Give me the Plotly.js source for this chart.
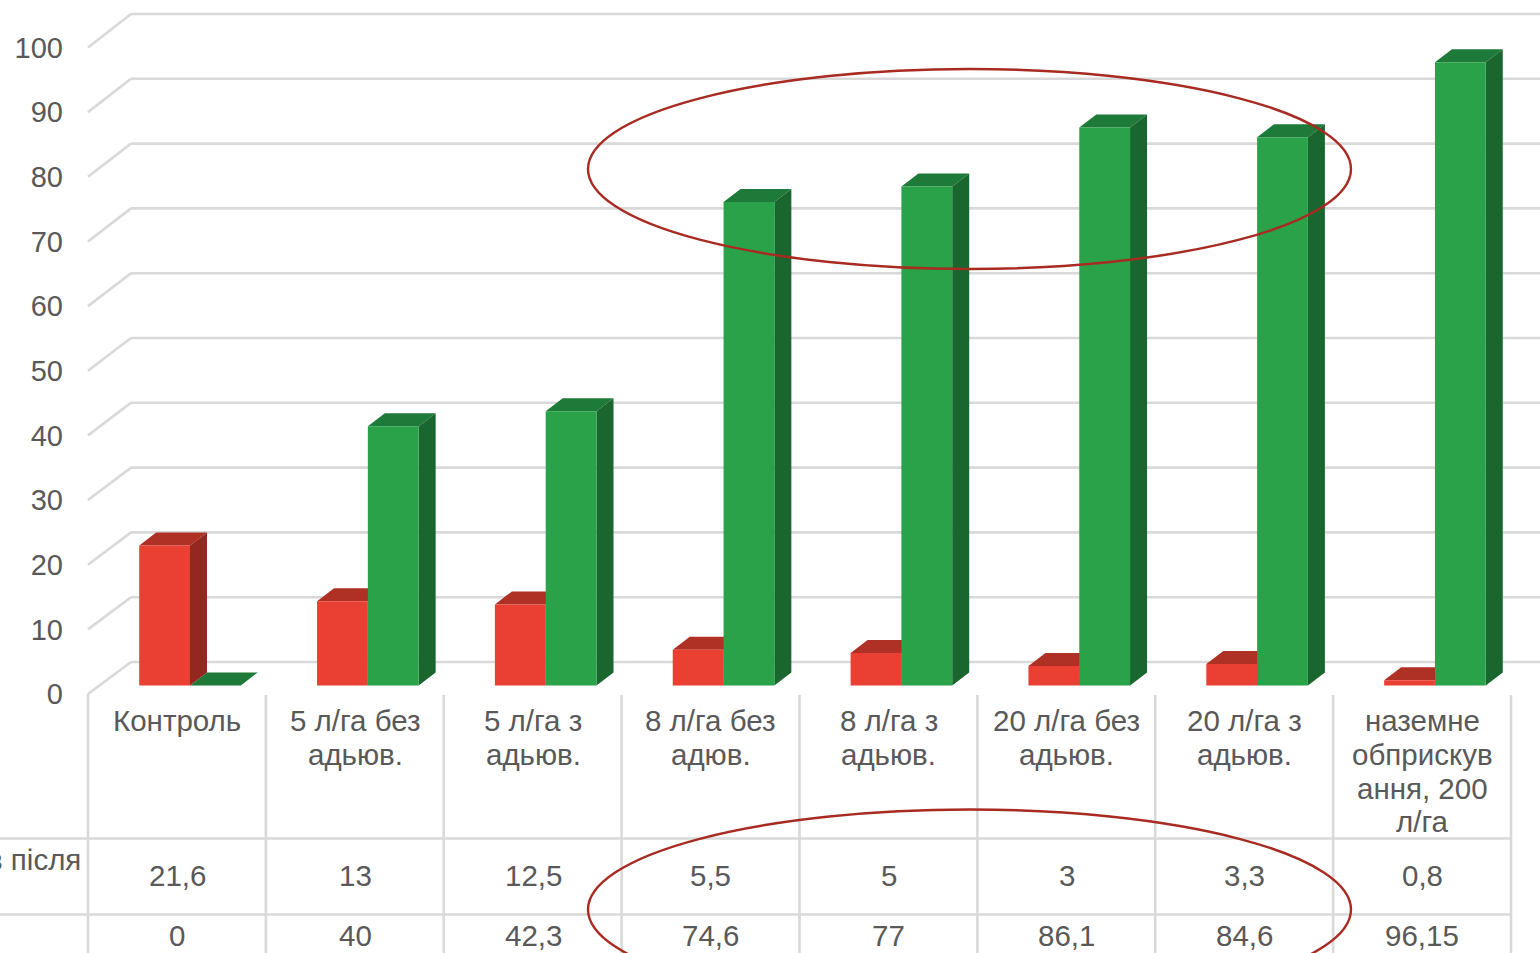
<!DOCTYPE html>
<html>
<head>
<meta charset="utf-8">
<script src="https://cdn.plot.ly/plotly-3.0.1.min.js"></script>
<style>html,body{margin:0;padding:0;background:#fff;overflow:hidden}#chart{width:1540px;height:953px}</style>
</head>
<body>
<div id="chart"></div>
<script>
// Data table of the chart
const categories = ['Контроль', '5 л/га без<br>адьюв.', '5 л/га з<br>адьюв.', '8 л/га без<br>адюв.',
  '8 л/га з<br>адьюв.', '20 л/га без<br>адьюв.', '20 л/га з<br>адьюв.', 'наземне<br>обприскув<br>ання, 200<br>л/га'];
const redValues = [21.6, 13, 12.5, 5.5, 5, 3, 3.3, 0.8];
const greenValues = [0, 40, 42.3, 74.6, 77, 86.1, 84.6, 96.15];
const redLabels = ['21,6', '13', '12,5', '5,5', '5', '3', '3,3', '0,8'];
const greenLabels = ['0', '40', '42,3', '74,6', '77', '86,1', '84,6', '96,15'];
const yTicks = [0, 10, 20, 30, 40, 50, 60, 70, 80, 90, 100];

// Frame geometry in page pixels
const W = 1540, H = 953, LEFT = 88, FLOOR = 694;
const CELL = 177.85, FIRST_CENTER = 177;
const FRONT_SCALE = 6.465, BAR_SCALE = 6.48, BAR_BASE = 685.4;
const BACK_BASE = 662, BACK_X = 131;
const DEPTH_X = 17, DEPTH_Y = 13, BAR_SHIFT = 13, BAR_W = 50.8;

const GRID = '#D9D9D9', TEXT = '#595959', RING = '#A82B22';
const FONT = 'Liberation Sans, Arial, sans-serif', FS = 29.5;

const px = p => (p - LEFT) / (W - LEFT);
const py = p => (FLOOR - p) / FLOOR;
const catRange = shift => [(LEFT - FIRST_CENTER - shift) / CELL, (W - FIRST_CENTER - shift) / CELL];
const idx = categories.map((_, i) => i);

// Side and top faces of the bars as filled polygons, one closed loop per bar
const w = BAR_W / CELL, dx = DEPTH_X / CELL, dy = DEPTH_Y / BAR_SCALE;
function faces(values, offset, kind) {
  const xs = [], ys = [];
  values.forEach((v, i) => {
    const x0 = i + offset, x1 = x0 + w;
    if (kind === 'top') {
      xs.push(x0, x1, x1 + dx, x0 + dx, x0, null);
      ys.push(v, v, v + dy, v + dy, v, null);
    } else {
      xs.push(x1, x1, x1 + dx, x1 + dx, x1, null);
      ys.push(0, v, v + dy, dy, 0, null);
    }
  });
  return {x: xs, y: ys};
}
function faceTrace(values, offset, kind, color) {
  const f = faces(values, offset, kind);
  return {type: 'scatter', mode: 'lines', x: f.x, y: f.y, xaxis: 'x2', yaxis: 'y2', fill: 'toself',
    fillcolor: color, line: {width: 0, color: color}, hoverinfo: 'skip', showlegend: false};
}
function frontTrace(values, color, name) {
  return {type: 'bar', x: idx, y: values, name: name, xaxis: 'x3', yaxis: 'y3',
    marker: {color: color, line: {width: 0}}, showlegend: false};
}

const traces = [
  // Invisible carrier for the value axis and the category positions
  {type: 'scatter', mode: 'markers', x: idx, y: greenValues, marker: {opacity: 0}, hoverinfo: 'skip', showlegend: false},
  faceTrace(greenValues, 0, 'top', '#1E7A38'),
  faceTrace(greenValues, 0, 'side', '#19662E'),
  faceTrace(redValues, -w, 'top', '#AF3024'),
  faceTrace(redValues, -w, 'side', '#92281F'),
  frontTrace(redValues, '#EA3F33', 'Червоний ряд'),
  frontTrace(greenValues, '#2AA24A', 'Зелений ряд')
];

// Walls: diagonal from the value axis to the back wall, then the gridline
const lineStyle = {color: GRID, width: 2.6};
const seg = (x0, y0, x1, y1, st) => ({type: 'line', xref: 'paper', yref: 'paper', layer: 'below',
  x0: px(x0), y0: py(y0), x1: px(x1), y1: py(y1), line: st || lineStyle});
const shapes = [];
yTicks.forEach(v => {
  const front = FLOOR - FRONT_SCALE * v, back = BACK_BASE - BAR_SCALE * v;
  shapes.push(seg(LEFT, front, BACK_X, back));
  shapes.push(seg(BACK_X, back, W, back));
});

// Table rules under the chart
const ROW1 = 838.5, ROW2 = 914.5;
for (let i = 0; i <= categories.length; i++) {
  const x = LEFT + (i * (W - 29 - LEFT)) / categories.length;
  shapes.push(seg(x, FLOOR + (i === 0 ? 0 : 1), x, H, {color: GRID, width: 2.6}));
}
shapes.push(seg(0, ROW1, W - 29, ROW1), seg(0, ROW2, W - 29, ROW2));

// The two ovals highlighting the same treatments in plot and table
const ring = (y0, y1) => ({type: 'circle', xref: 'paper', yref: 'paper', layer: 'above',
  x0: px(588), x1: px(1351), y0: py(y0), y1: py(y1), line: {color: RING, width: 2.4}, fillcolor: 'rgba(0,0,0,0)'});
shapes.push(ring(69, 269), ring(809.5, 1009.5));

// Category labels and table values, placed line by line
const note = (x, y, text, anchor) => ({xref: 'paper', yref: 'paper', x: px(x), y: py(y), text: text,
  showarrow: false, xanchor: anchor || 'center', yanchor: 'middle', font: {family: FONT, size: FS, color: TEXT}});
const annotations = [];
const LINE = 33.7, CAT_TOP = 720.7;
categories.forEach((c, i) => {
  const cx = FIRST_CENTER + 0.4 + i * CELL;
  c.split('<br>').forEach((t, k) => annotations.push(note(cx, CAT_TOP + k * LINE, t)));
  annotations.push(note(cx, 875.2, redLabels[i]));
  annotations.push(note(cx, 935.2, greenLabels[i]));
});
annotations.push(note(83, 859.5, 'в після', 'right'));

const hidden = {visible: false, fixedrange: true};
const barYRange = [(BAR_BASE - FLOOR) / BAR_SCALE, BAR_BASE / BAR_SCALE];
const layout = {
  width: W, height: H, autosize: false, showlegend: false,
  paper_bgcolor: '#fff', plot_bgcolor: 'rgba(0,0,0,0)',
  margin: {l: LEFT, r: 0, t: 0, b: H - FLOOR, pad: 0},
  barmode: 'group', bargap: 1 - 2 * BAR_W / CELL, bargroupgap: 0,
  font: {family: FONT, size: FS, color: TEXT},
  xaxis: {range: catRange(0), tickvals: idx, showticklabels: false, ticks: '', showgrid: false,
    zeroline: false, showline: false, fixedrange: true},
  yaxis: {range: [0, FLOOR / FRONT_SCALE], tickvals: yTicks, ticks: '', ticklabelstandoff: 24,
    showgrid: false, zeroline: false, showline: false, fixedrange: true,
    tickfont: {family: FONT, size: 29, color: TEXT}},
  xaxis2: Object.assign({overlaying: 'x', anchor: 'y2', range: catRange(BAR_SHIFT)}, hidden),
  yaxis2: Object.assign({overlaying: 'y', anchor: 'x2', range: barYRange}, hidden),
  xaxis3: Object.assign({overlaying: 'x', anchor: 'y3', range: catRange(BAR_SHIFT)}, hidden),
  yaxis3: Object.assign({overlaying: 'y', anchor: 'x3', range: barYRange}, hidden),
  shapes: shapes, annotations: annotations
};

Plotly.newPlot('chart', traces, layout, {displayModeBar: false, staticPlot: true});
</script>
</body>
</html>
